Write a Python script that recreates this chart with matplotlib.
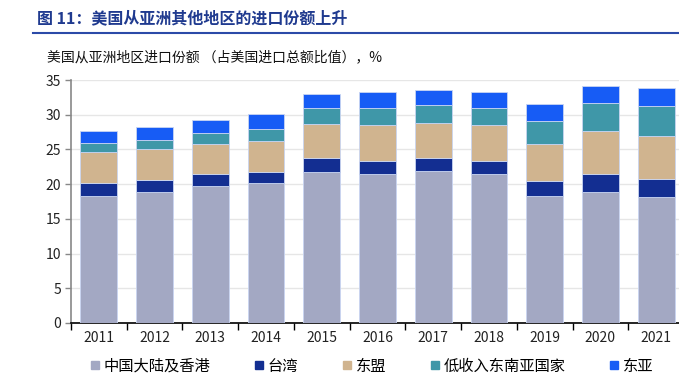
import numpy as np
import matplotlib.pyplot as plt
from matplotlib.lines import Line2D

plt.rcParams['font.family'] = ['Noto Sans CJK SC', 'DejaVu Sans']

years = ["2011", "2012", "2013", "2014", "2015", "2016", "2017", "2018", "2019", "2020", "2021"]
china_hk = [18.3, 18.9, 19.7, 20.1, 21.8, 21.5, 21.9, 21.5, 18.3, 18.9, 18.1]
taiwan = [1.8, 1.7, 1.7, 1.7, 1.9, 1.8, 1.8, 1.8, 2.1, 2.5, 2.7]
asean = [4.5, 4.5, 4.4, 4.4, 4.9, 5.2, 5.1, 5.2, 5.4, 6.2, 6.1]
low_income_sea = [1.3, 1.2, 1.6, 1.8, 2.3, 2.4, 2.6, 2.4, 3.3, 4.1, 4.3]
east_asia = [1.7, 2.0, 1.9, 2.1, 2.1, 2.3, 2.2, 2.3, 2.5, 2.4, 2.7]

labels = ["中国大陆及香港", "台湾", "东盟", "低收入东南亚国家", "东亚"]
colors = ["#A3A8C3", "#132E91", "#D0B48F", "#3F97A8", "#175CF5"]
series = [china_hk, taiwan, asean, low_income_sea, east_asia]

W, H = 679, 391
fig = plt.figure(figsize=(W / 100, H / 100), dpi=100)

# axes box in pixels: left 71, right 684, top 80, bottom 323
ax = fig.add_axes([71 / W, (H - 323) / H, (684 - 71) / W, (323 - 80) / H])

x = np.arange(len(years))
bottom = np.zeros(len(years))
for vals, c in zip(series, colors):
    ax.bar(x, vals, 0.66, bottom=bottom, color=c, edgecolor="#C9D5F2", linewidth=0.6, zorder=3)
    bottom += np.array(vals)

ax.set_ylim(0, 35)
ax.set_yticks(range(0, 36, 5))
ax.set_xlim(-0.5, len(years) - 0.5)
ax.set_xticks(x)
ax.set_xticklabels(years, fontsize=10, color="#222222")
ax.set_xticks(np.arange(-0.5, len(years), 1), minor=True)
ax.tick_params(axis="x", which="major", length=0, pad=6)
ax.tick_params(axis="x", which="minor", length=5, width=1, color="black")
ax.tick_params(axis="y", length=4, width=1, color="#888888", labelsize=10, labelcolor="#222222", pad=3)
ax.grid(axis="y", color="#E6E6E6", linewidth=1, zorder=0)
for s in ["top", "right"]:
    ax.spines[s].set_visible(False)
ax.spines["left"].set_color("#888888")
ax.spines["left"].set_linewidth(1.2)
ax.spines["bottom"].set_color("black")
ax.spines["bottom"].set_linewidth(1.2)

# title and rule
fig.text(37 / W, 1 - 18 / H, "图 11：美国从亚洲其他地区的进口份额上升", fontsize=11.5,
         fontweight="bold", color="#1F3A8F", va="center", ha="left")
fig.add_artist(Line2D([33 / W, 1], [1 - 33 / H, 1 - 33 / H], color="#2B4AA8", linewidth=1.5))
fig.text(47 / W, 1 - 57 / H, "美国从亚洲地区进口份额 （占美国进口总额比值），%", fontsize=10,
         color="#111111", va="center", ha="left")

handles = [Line2D([], [], marker="s", linestyle="none", markersize=6, color=c) for c in colors]
fig.legend(handles, labels, loc="center", bbox_to_anchor=(372 / W, 1 - 366 / H), ncol=5,
           frameon=False, fontsize=11, handlelength=0.6, handletextpad=0.25, columnspacing=2.9)

fig.savefig("out.png", dpi=100)
